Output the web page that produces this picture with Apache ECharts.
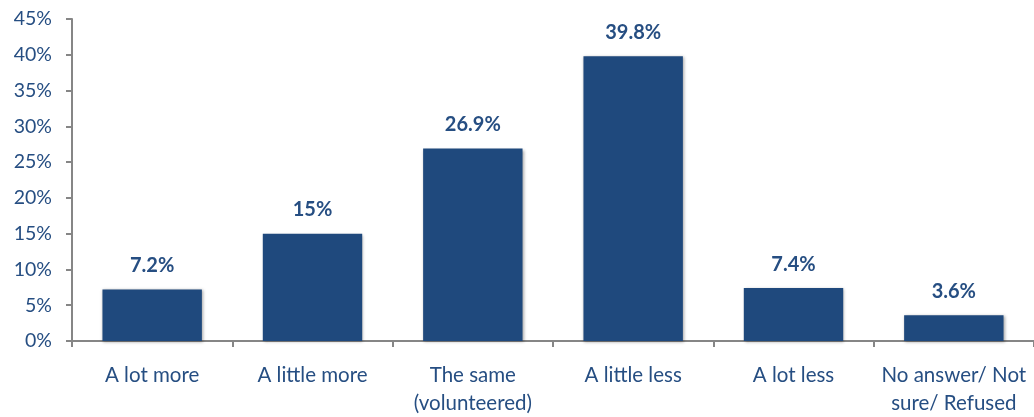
<!DOCTYPE html>
<html><head><meta charset="utf-8">
<script src="https://cdn.jsdelivr.net/npm/echarts@6/dist/echarts.min.js"></script>
<style>html,body{margin:0;padding:0;background:#fff}#c{width:1034px;height:417px}</style>
</head><body><div id="c"></div>
<script>
const categories = ['A lot more', 'A little more', 'The same\n(volunteered)', 'A little less', 'A lot less', 'No answer/ Not\nsure/ Refused'];
const values = [7.2, 15, 26.9, 39.8, 7.4, 3.6];
const valueLabels = ['7.2%', '15%', '26.9%', '39.8%', '7.4%', '3.6%'];

const textColor = '#264e82';
const font = 'Lato, "Open Sans", sans-serif';
const chart = echarts.init(document.getElementById('c'), null, {renderer: 'canvas'});
chart.setOption({
  animation: false,
  grid: {left: 72, right: -6, top: 19, bottom: 72, containLabel: false},
  xAxis: {
    type: 'category', data: categories, boundaryGap: true,
    axisLine: {lineStyle: {color: '#868686', width: 2}},
    axisTick: {show: true, length: 6, lineStyle: {color: '#868686', width: 2}},
    axisLabel: {color: textColor, fontSize: 20.5, fontFamily: font, margin: 20, lineHeight: 28, interval: 0}
  },
  yAxis: {
    type: 'value', min: 0, max: 45, interval: 5,
    splitLine: {show: false},
    axisLine: {show: true, lineStyle: {color: '#868686', width: 2}},
    axisTick: {show: true, length: 6, lineStyle: {color: '#868686', width: 2}},
    axisLabel: {color: textColor, fontSize: 19.5, fontFamily: font, margin: 20, formatter: v => v + '%'}
  },
  series: [{
    type: 'bar', data: values, barWidth: '62%',
    itemStyle: {color: '#1f497d', shadowBlur: 3, shadowColor: 'rgba(0,0,0,0.35)', shadowOffsetX: 1, shadowOffsetY: 1},
    label: {show: true, position: 'top', distance: 14, color: textColor, fontSize: 20, fontWeight: 'bold', fontFamily: font,
      formatter: p => valueLabels[p.dataIndex]}
  }]
});
</script></body></html>
